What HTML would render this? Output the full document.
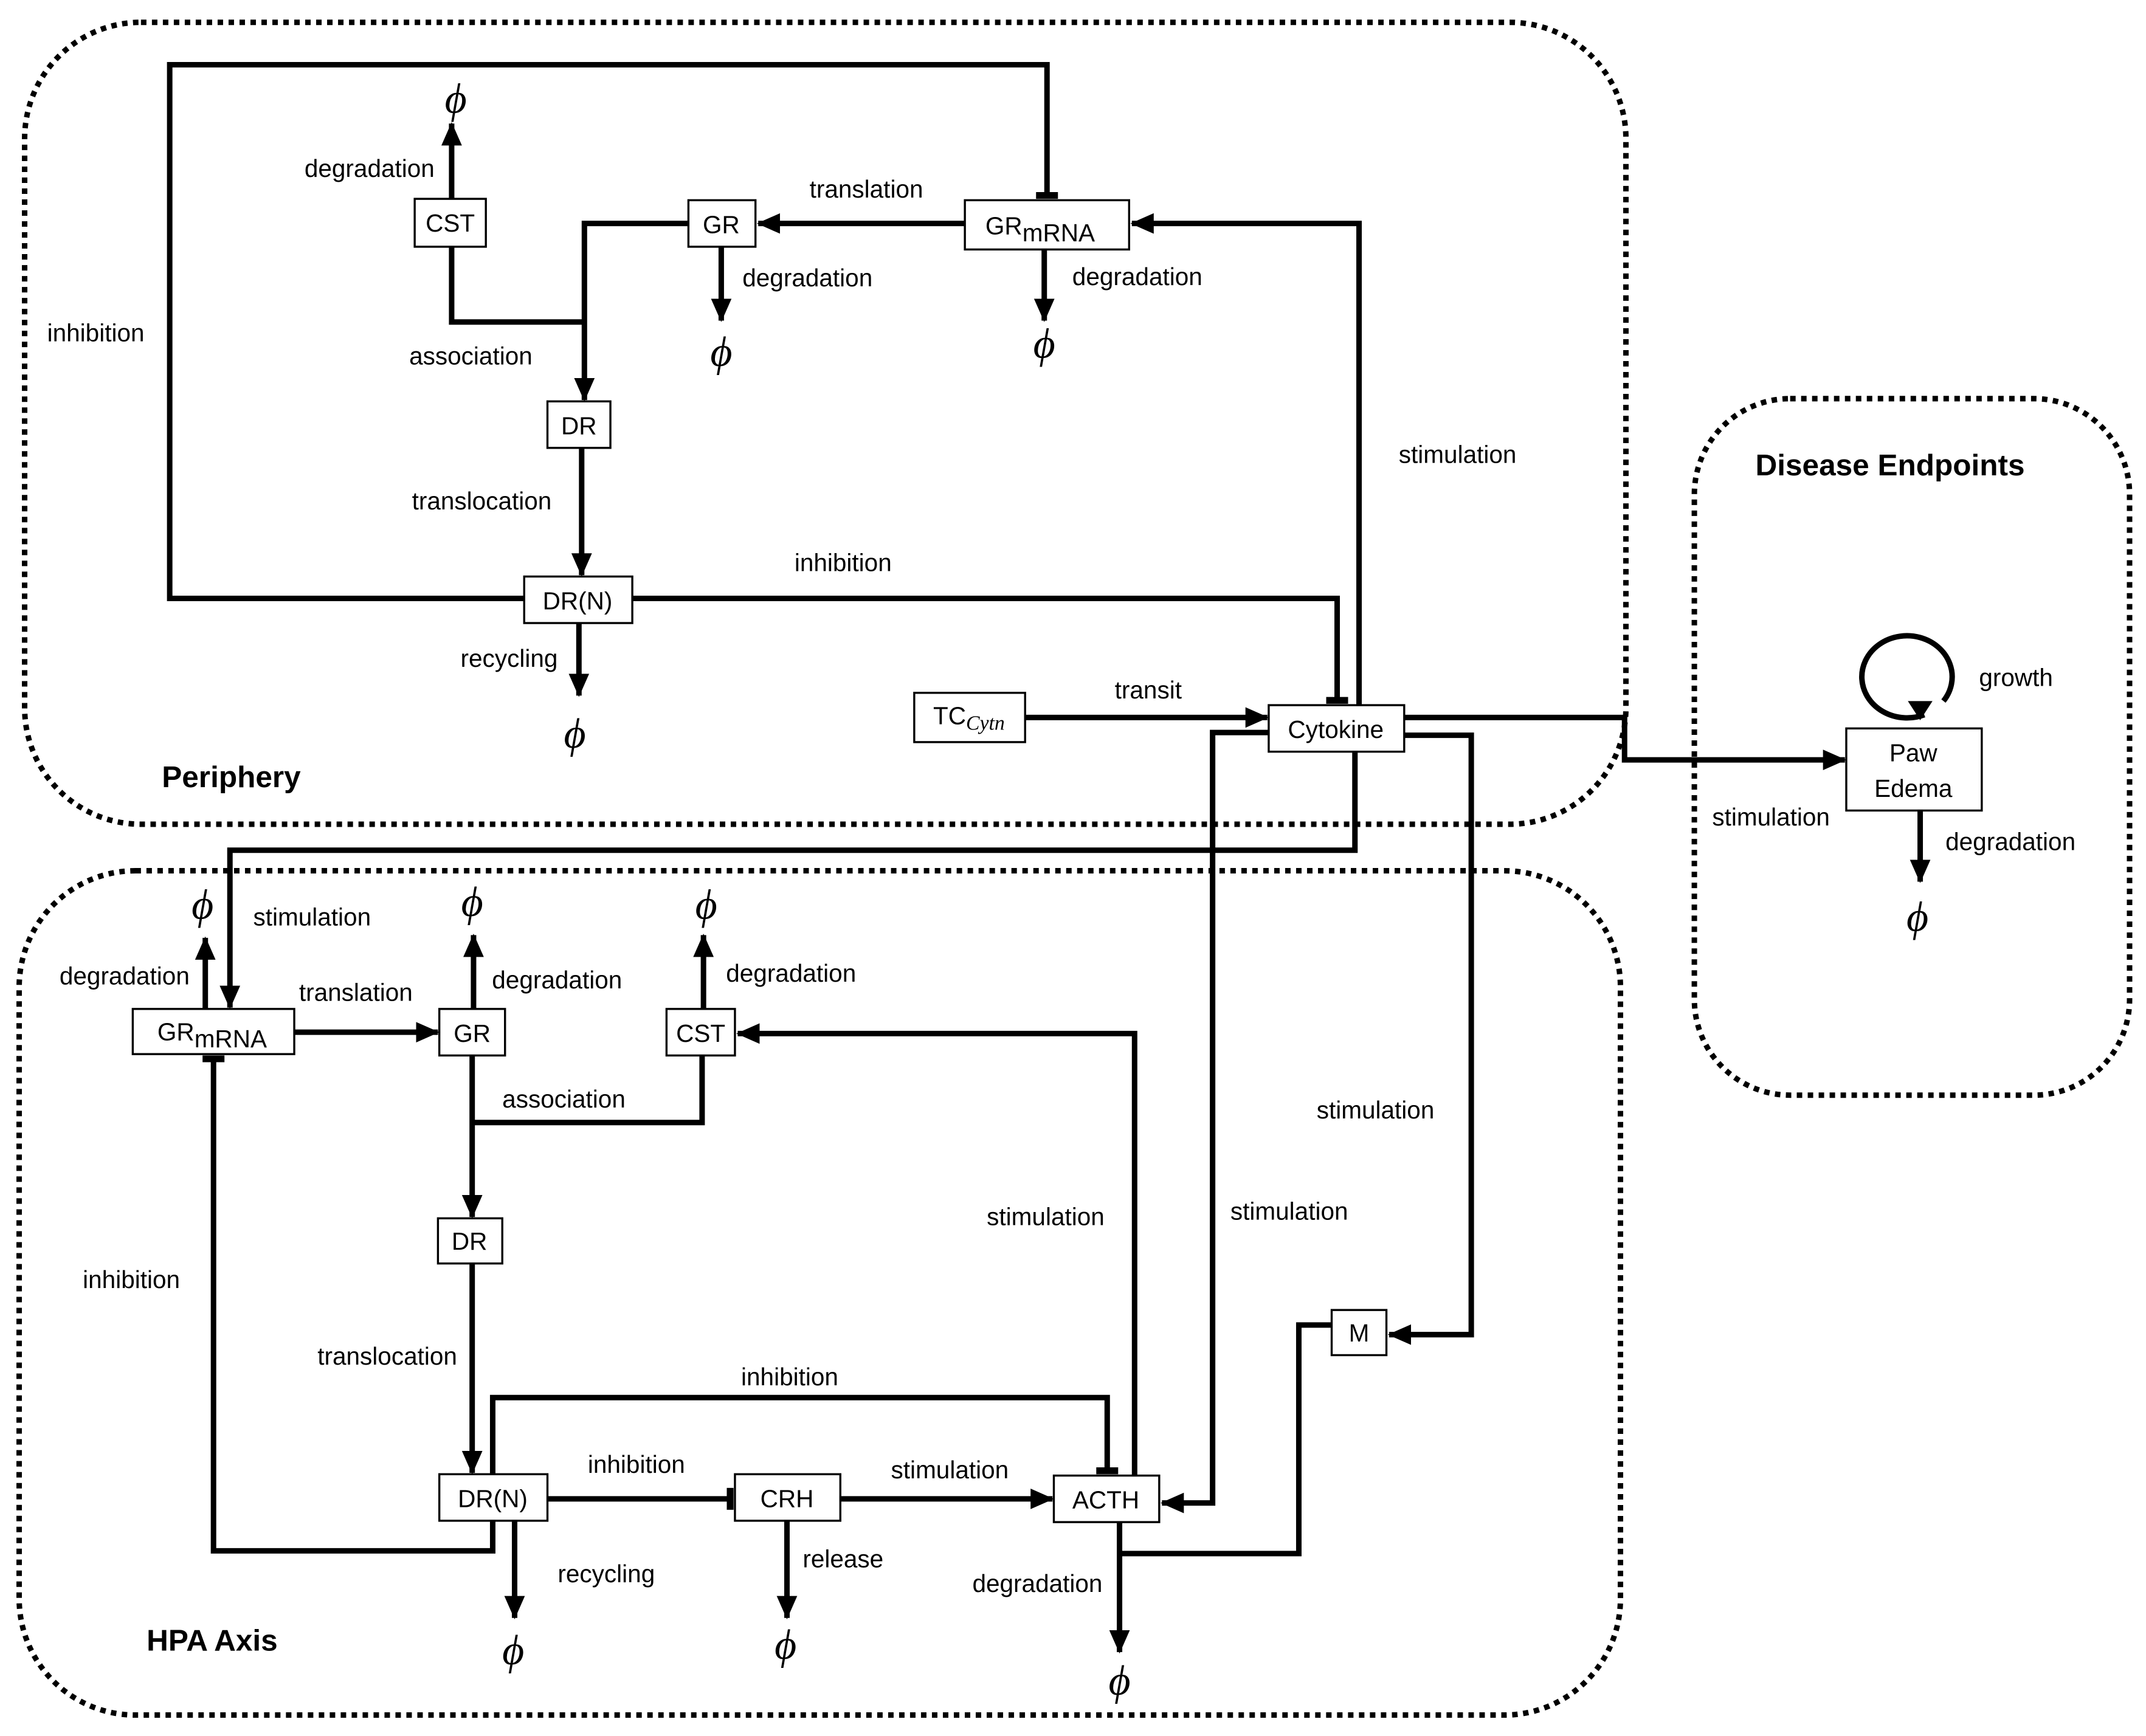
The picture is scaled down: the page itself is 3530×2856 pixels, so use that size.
<!DOCTYPE html>
<html><head><meta charset="utf-8"><style>
html,body{margin:0;padding:0;background:#fff;}
svg{display:block;}
text{font-family:"Liberation Sans",sans-serif;font-size:18px;fill:#000;}
.b{font-weight:bold;font-size:22px;}
.phi{font-family:"Liberation Serif",serif;font-style:italic;font-size:31px;}
</style></head><body>
<svg width="3530" height="2856" viewBox="0 0 1568 1268" xmlns="http://www.w3.org/2000/svg">
<defs>
<marker id="a" markerUnits="userSpaceOnUse" markerWidth="18" markerHeight="18" refX="16" refY="9" orient="auto"><path d="M0,1.5 L17,9 L0,16.5 Z" fill="#000"/></marker>
<marker id="t" markerUnits="userSpaceOnUse" markerWidth="6" markerHeight="20" refX="3" refY="10" orient="auto"><rect x="0" y="2" width="5" height="16" fill="#000"/></marker>
</defs>
<g fill="none" stroke="#000" stroke-width="4" stroke-dasharray="4,4">
<rect x="18" y="16" width="1170" height="586" rx="85"/>
<rect x="14" y="636" width="1170" height="617" rx="85"/>
<rect x="1238" y="291" width="318" height="509" rx="70"/>
</g>
<g fill="none" stroke="#000" stroke-width="4">
<polyline points="383,437 124,437 124,47 765,47 765,143" marker-end="url(#t)"/>
<line x1="330" y1="145" x2="330" y2="90" marker-end="url(#a)"/>
<line x1="705" y1="163" x2="554" y2="163" marker-end="url(#a)"/>
<polyline points="503,163 427,163 427,292" marker-end="url(#a)"/>
<polyline points="330,180 330,235 427,235"/>
<line x1="527" y1="180" x2="527" y2="234" marker-end="url(#a)"/>
<line x1="763" y1="182" x2="763" y2="234" marker-end="url(#a)"/>
<line x1="425" y1="327" x2="425" y2="420" marker-end="url(#a)"/>
<line x1="423" y1="455" x2="423" y2="508" marker-end="url(#a)"/>
<polyline points="462,437 977,437 977,512" marker-end="url(#t)"/>
<polyline points="993,515 993,163 827,163" marker-end="url(#a)"/>
<line x1="749" y1="524" x2="926" y2="524" marker-end="url(#a)"/>
<polyline points="1026,524 1187,524 1187,555 1348,555" marker-end="url(#a)"/>
<path d="M1406,522 A33,30 0 1 1 1420,512" />
<line x1="1403" y1="592" x2="1403" y2="644" marker-end="url(#a)"/>
<polyline points="990,549 990,621 168,621 168,736" marker-end="url(#a)"/>
<polyline points="927,535 886,535 886,1098 849,1098" marker-end="url(#a)"/>
<polyline points="1026,537 1075,537 1075,975 1015,975" marker-end="url(#a)"/>
<line x1="150" y1="737" x2="150" y2="685" marker-end="url(#a)"/>
<line x1="215" y1="754" x2="320" y2="754" marker-end="url(#a)"/>
<line x1="346" y1="737" x2="346" y2="683" marker-end="url(#a)"/>
<line x1="514" y1="737" x2="514" y2="683" marker-end="url(#a)"/>
<line x1="345" y1="771" x2="345" y2="889" marker-end="url(#a)"/>
<polyline points="513,771 513,820 345,820"/>
<line x1="345" y1="923" x2="345" y2="1076" marker-end="url(#a)"/>
<polyline points="360,1111 360,1133 156,1133 156,773" marker-end="url(#t)"/>
<polyline points="360,1077 360,1021 809,1021 809,1075" marker-end="url(#t)"/>
<line x1="400" y1="1095" x2="534" y2="1095" marker-end="url(#t)"/>
<line x1="614" y1="1095" x2="769" y2="1095" marker-end="url(#a)"/>
<line x1="376" y1="1111" x2="376" y2="1182" marker-end="url(#a)"/>
<line x1="575" y1="1111" x2="575" y2="1182" marker-end="url(#a)"/>
<line x1="818" y1="1112" x2="818" y2="1207" marker-end="url(#a)"/>
<polyline points="829,1078 829,755 539,755" marker-end="url(#a)"/>
<polyline points="818,1135 949,1135 949,968 973,968"/>
</g>
<path d="M1394,512 L1412,512 L1403,526 Z" fill="#000"/>
<g fill="#fff" stroke="#000" stroke-width="1.5">
<rect x="303" y="145" width="52" height="35"/>
<rect x="503" y="146" width="49" height="34"/>
<rect x="705" y="146" width="120" height="36"/>
<rect x="400" y="293" width="46" height="34"/>
<rect x="383" y="421" width="79" height="34"/>
<rect x="668" y="506" width="81" height="36"/>
<rect x="927" y="515" width="99" height="34"/>
<rect x="1349" y="532" width="99" height="60"/>
<rect x="97" y="737" width="118" height="33"/>
<rect x="321" y="737" width="48" height="34"/>
<rect x="487" y="737" width="50" height="34"/>
<rect x="320" y="890" width="47" height="33"/>
<rect x="321" y="1077" width="79" height="34"/>
<rect x="537" y="1077" width="77" height="34"/>
<rect x="770" y="1078" width="77" height="34"/>
<rect x="973" y="957" width="40" height="33"/>
</g>
<g text-anchor="middle">
<text x="329" y="169">CST</text>
<text x="527" y="170">GR</text>
<text x="760" y="171">GR<tspan dy="5">mRNA</tspan></text>
<text x="423" y="317">DR</text>
<text x="422" y="445">DR(N)</text>
<text x="708" y="529">TC<tspan dy="4" font-family="Liberation Serif" font-style="italic" font-size="15">Cytn</tspan></text>
<text x="976" y="539">Cytokine</text>
<text x="1398" y="556">Paw</text>
<text x="1398" y="582">Edema</text>
<text x="155" y="760">GR<tspan dy="5">mRNA</tspan></text>
<text x="345" y="761">GR</text>
<text x="512" y="761">CST</text>
<text x="343" y="913">DR</text>
<text x="360" y="1101">DR(N)</text>
<text x="575" y="1101">CRH</text>
<text x="808" y="1102">ACTH</text>
<text x="993" y="980">M</text>
<text x="270" y="129">degradation</text>
<text x="633" y="144">translation</text>
<text x="590" y="209">degradation</text>
<text x="831" y="208">degradation</text>
<text x="344" y="266">association</text>
<text x="352" y="372">translocation</text>
<text x="372" y="487">recycling</text>
<text x="616" y="417">inhibition</text>
<text x="70" y="249">inhibition</text>
<text x="1065" y="338">stimulation</text>
<text x="839" y="510">transit</text>
<text x="1294" y="603">stimulation</text>
<text x="1473" y="501">growth</text>
<text x="1469" y="621">degradation</text>
<text x="228" y="676">stimulation</text>
<text x="91" y="719">degradation</text>
<text x="260" y="731">translation</text>
<text x="407" y="722">degradation</text>
<text x="578" y="717">degradation</text>
<text x="412" y="809">association</text>
<text x="1005" y="817">stimulation</text>
<text x="764" y="895">stimulation</text>
<text x="942" y="891">stimulation</text>
<text x="96" y="941">inhibition</text>
<text x="283" y="997">translocation</text>
<text x="577" y="1012">inhibition</text>
<text x="465" y="1076">inhibition</text>
<text x="694" y="1080">stimulation</text>
<text x="443" y="1156">recycling</text>
<text x="616" y="1145">release</text>
<text x="758" y="1163">degradation</text>
<text class="b" x="169" y="575">Periphery</text>
<text class="b" x="155" y="1206">HPA Axis</text>
<text class="b" x="1381" y="347">Disease Endpoints</text>
<text class="phi" x="333" y="82">ϕ</text>
<text class="phi" x="527" y="267">ϕ</text>
<text class="phi" x="763" y="261">ϕ</text>
<text class="phi" x="420" y="546">ϕ</text>
<text class="phi" x="1401" y="680">ϕ</text>
<text class="phi" x="148" y="671">ϕ</text>
<text class="phi" x="345" y="669">ϕ</text>
<text class="phi" x="516" y="671">ϕ</text>
<text class="phi" x="375" y="1216">ϕ</text>
<text class="phi" x="574" y="1212">ϕ</text>
<text class="phi" x="818" y="1238">ϕ</text>
</g>
</svg>
</body></html>
